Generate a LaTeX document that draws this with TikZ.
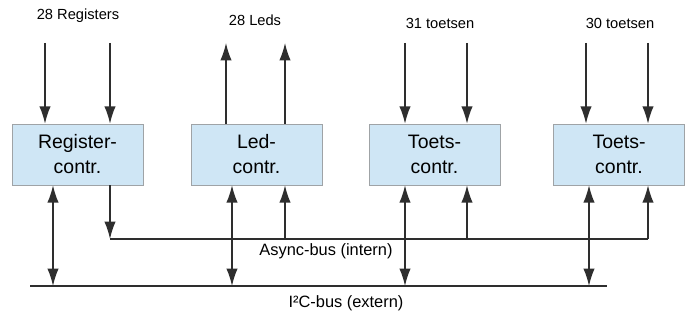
\documentclass[tikz,border=0pt]{standalone}
\usepackage{fontspec}
\setmainfont{Liberation Sans}
\usetikzlibrary{arrows.meta}

\definecolor{ctrlblue}{HTML}{CFE6F5}
\definecolor{ctrlgray}{HTML}{9FA3A6}
\definecolor{wire}{HTML}{2E2E2E}

\begin{document}
\begin{tikzpicture}[x=0.75pt, y=0.75pt, every node/.style={font=\fontsize{11}{13}\selectfont}]

		% Page frame
		\useasboundingbox (0,0) rectangle (686,320);

		% Styles for the controllers, wires and bus labels
		\tikzset{
			controller/.style={draw=ctrlgray, fill=ctrlblue, align=center, minimum width=98.25pt, minimum height=45.75pt, inner sep=0pt, font=\fontsize{14.6}{18.8}\selectfont},
			sig/.style={draw=wire, line width=1.1pt, -{Latex[length=13pt, width=8.5pt]}},
			bus/.style={draw=wire, line width=1.3pt},
			buslabel/.style={font=\fontsize{12.3}{14}\selectfont}
		};

		% The four controllers
		\node[controller] (reg) at (77.5,165.5) {Register-\\contr.};
		\node[controller] (led) at (256.5,165.5) {Led-\\contr.};
		\node[controller] (tA) at (434.5,165.5) {Toets-\\contr.};
		\node[controller] (tB) at (619,165.5) {Toets-\\contr.};

		% Labels for the signals on top
		\node (regtxt) at (78,304) {28 Registers};
		\node (ledtxt) at (255,300) {28 Leds};
		\node (tAtxt) at (440,297) {31 toetsen};
		\node (tBtxt) at (620,297) {30 toetsen};

		% Free ends of the top wires
		\coordinate (regA) at (45,277);
		\coordinate (regB) at (110,277);
		\coordinate (ledA) at (226,277);
		\coordinate (ledB) at (285,277);
		\coordinate (tAa) at (405,277);
		\coordinate (tAb) at (467,277);
		\coordinate (tBa) at (586,277);
		\coordinate (tBb) at (648,277);

		% Top wires: registers and keys come in, leds go out
		\draw[sig] (regA) -- (reg.north -| regA);
		\draw[sig] (regB) -- (reg.north -| regB);
		\draw[sig] (led.north -| ledA) -- (ledA);
		\draw[sig] (led.north -| ledB) -- (ledB);
		\draw[sig] (tAa) -- (tA.north -| tAa);
		\draw[sig] (tAb) -- (tA.north -| tAb);
		\draw[sig] (tBa) -- (tB.north -| tBa);
		\draw[sig] (tBb) -- (tB.north -| tBb);

		% Async-bus (intern)
		\coordinate (asyncL) at (110,81);
		\coordinate (asyncR) at (648,81);
		\draw[bus] (asyncL) -- (asyncR);
		\node[buslabel] (asynctxt) at (326,69) {Async-bus (intern)};

		% I2C-bus (extern)
		\coordinate (i2cL) at (30,34);
		\coordinate (i2cR) at (607,34);
		\draw[bus] (i2cL) -- (i2cR);
		\node[buslabel] (i2ctxt) at (346,17) {I²C-bus (extern)};

		% Taps on the I2C-bus
		\coordinate (regI) at (53,34);
		\coordinate (ledI) at (232,34);
		\coordinate (tAI) at (405,34);
		\coordinate (tBI) at (589,34);

		% Taps on the async-bus
		\coordinate (ledS) at (285,81);
		\coordinate (tAS) at (467,81);

		% Register-contr.: both ways to I2C, output to the async-bus
		\draw[sig, {Latex[length=13pt, width=8.5pt]}-{Latex[length=13pt, width=8.5pt]}] (reg.south -| regI) -- (regI);
		\draw[sig] (reg.south -| asyncL) -- (asyncL);

		% Led-contr.
		\draw[sig, {Latex[length=13pt, width=8.5pt]}-{Latex[length=13pt, width=8.5pt]}] (led.south -| ledI) -- (ledI);
		\draw[sig] (ledS) -- (led.south -| ledS);

		% Toets-contr. (31)
		\draw[sig, {Latex[length=13pt, width=8.5pt]}-{Latex[length=13pt, width=8.5pt]}] (tA.south -| tAI) -- (tAI);
		\draw[sig] (tAS) -- (tA.south -| tAS);

		% Toets-contr. (30)
		\draw[sig, {Latex[length=13pt, width=8.5pt]}-{Latex[length=13pt, width=8.5pt]}] (tB.south -| tBI) -- (tBI);
		\draw[sig] (asyncR) -- (tB.south -| asyncR);
	\end{tikzpicture}
\end{document}
